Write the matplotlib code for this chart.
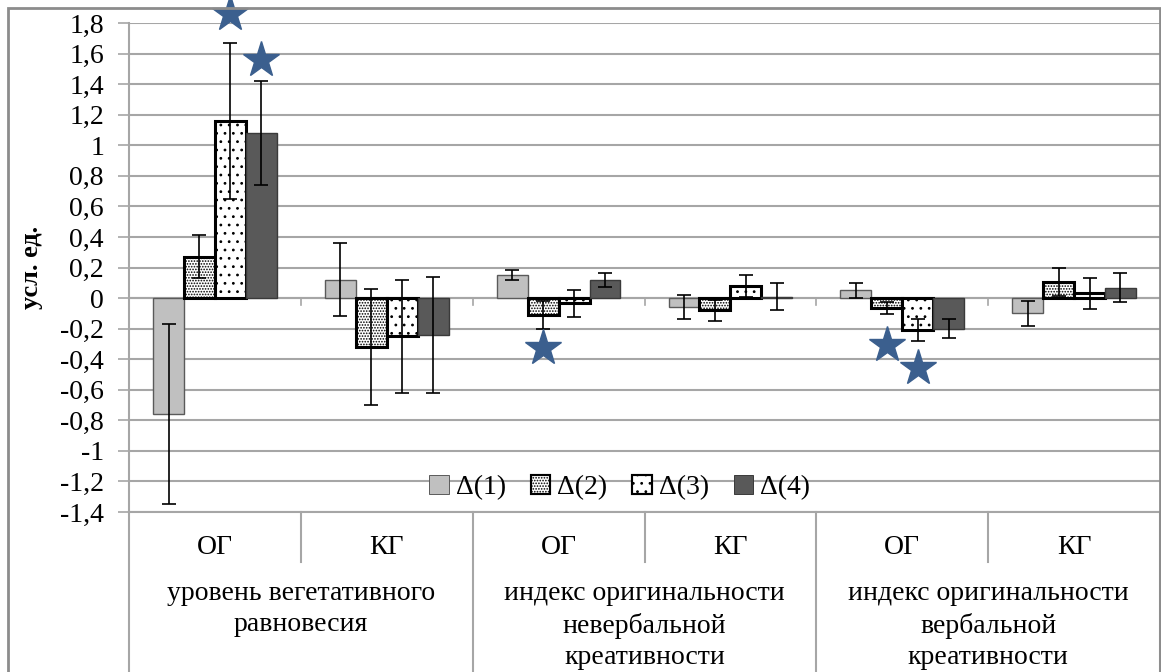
import numpy as np
import matplotlib
matplotlib.use('Agg')
import matplotlib.pyplot as plt
from matplotlib.patches import Rectangle, Patch
from matplotlib.ticker import FuncFormatter
import matplotlib.transforms as mtransforms

plt.rcParams['font.family'] = 'serif'
plt.rcParams['font.serif'] = ['Liberation Serif', 'DejaVu Serif']
plt.rcParams['hatch.linewidth'] = 0.8

# данные (читаются с рисунка)
groups = ['ОГ', 'КГ', 'ОГ', 'КГ', 'ОГ', 'КГ']
indicators = ['уровень вегетативного\nравновесия',
              'индекс оригинальности\nневербальной\nкреативности',
              'индекс оригинальности\nвербальной\nкреативности']
series = ['Δ(1)', 'Δ(2)', 'Δ(3)', 'Δ(4)']

d1 = [-0.76, 0.12, 0.15, -0.06, 0.05, -0.10]
d2 = [0.27, -0.32, -0.11, -0.08, -0.065, 0.105]
d3 = [1.16, -0.25, -0.035, 0.08, -0.21, 0.03]
d4 = [1.08, -0.24, 0.12, 0.01, -0.20, 0.068]

e1 = [0.59, 0.24, 0.035, 0.08, 0.05, 0.08]
e2 = [0.14, 0.38, 0.09, 0.07, 0.04, 0.09]
e3 = [0.51, 0.37, 0.09, 0.07, 0.07, 0.10]
e4 = [0.34, 0.38, 0.045, 0.09, 0.06, 0.095]

# звездочки значимости: (категория, ряд, y)
star_cat = [0, 0, 2, 4, 4]
star_ser = [2, 3, 1, 1, 2]
star_y = [1.86, 1.56, -0.33, -0.31, -0.46]

values = [d1, d2, d3, d4]
errors = [e1, e2, e3, e4]
faces = ['#c0c0c0', 'white', 'white', '#595959']
edges = ['#5a5a5a', 'black', 'black', '#3a3a3a']
hatches = [None, '......', '..', None]
lws = [1.0, 2.2, 2.2, 1.0]

fig = plt.figure(figsize=(11.61, 6.72), dpi=100)
ax = fig.add_axes([129 / 1161, 1 - 512 / 672, 1031 / 1161, 489 / 672])

x = np.arange(len(groups)) + 0.5
w = 0.18
offs = [-1.5 * w, -0.5 * w, 0.5 * w, 1.5 * w]

for i in range(4):
    ax.bar(x + offs[i], values[i], w, color=faces[i], edgecolor=edges[i],
           hatch=hatches[i], linewidth=lws[i], zorder=3)
    ax.errorbar(x + offs[i], values[i], yerr=errors[i], fmt='none',
                ecolor='black', elinewidth=1.2, capsize=5, capthick=1.2, zorder=4)

sx = [x[c] + offs[s] for c, s in zip(star_cat, star_ser)]
ax.plot(sx, star_y, linestyle='none', marker='*', markersize=27,
        color='#3b5f8e', clip_on=False, zorder=5)

ax.set_xlim(0, 6)
ax.set_ylim(-1.4, 1.8)
ax.set_yticks(np.round(np.arange(-1.4, 1.81, 0.2), 1))


def fmt(v, pos):
    s = ('%.1f' % v).replace('.', ',')
    if s.endswith(',0'):
        s = s[:-2]
    if s == '-0':
        s = '0'
    return s


ax.yaxis.set_major_formatter(FuncFormatter(fmt))
ax.set_xticks([])
ax.grid(axis='y', color='#a6a6a6', linewidth=1.5, zorder=0)
ax.tick_params(axis='y', length=8, width=1.2, color='#a6a6a6', pad=10,
               labelsize=20)
for s in ['top', 'right']:
    ax.spines[s].set_visible(False)
ax.spines['left'].set_color('#a6a6a6')
ax.spines['bottom'].set_color('#a6a6a6')
ax.spines['left'].set_linewidth(1.5)
ax.spines['bottom'].set_linewidth(1.5)

ax.set_ylabel('усл. ед.', fontsize=19, fontweight='bold', labelpad=12)

# нулевая линия и засечки категорий
ax.axhline(0, color='#a6a6a6', linewidth=1.5, zorder=2)
for b in range(1, 6):
    ax.plot([b, b], [0, -0.045], color='#a6a6a6', linewidth=1.2, zorder=2)

# подписи по оси X (двухуровневые)
tr = mtransforms.blended_transform_factory(ax.transData, ax.transAxes)
for b in range(0, 7):
    low = -0.327 if b % 2 == 0 else -0.102
    ax.plot([b, b], [0, low], transform=tr, color='#a6a6a6', linewidth=1.5,
            clip_on=False)
for i, g in enumerate(groups):
    ax.text(x[i], -0.072, g, transform=tr, ha='center', va='center',
            fontsize=20)
for j, lab in enumerate(indicators):
    ax.text(2 * j + 1, -0.141, lab, transform=tr, ha='center', va='top',
            fontsize=20, linespacing=1.33)

handles = [Patch(facecolor=faces[i], edgecolor=edges[i], hatch=hatches[i],
                 linewidth=lws[i] * 0.7) for i in range(4)]
ax.legend(handles, series, loc='center', bbox_to_anchor=(0.476, 0.05), ncol=4,
          frameon=False, fontsize=20, handlelength=0.7, handleheight=0.7,
          handletextpad=0.25, columnspacing=0.9)

fig.add_artist(Rectangle((8 / 1161, -0.1), 1152 / 1161, 1.1 - 8 / 672,
                         transform=fig.transFigure, fill=False,
                         edgecolor='#8c8c8c', linewidth=2))

fig.savefig('out.png', dpi=100)
